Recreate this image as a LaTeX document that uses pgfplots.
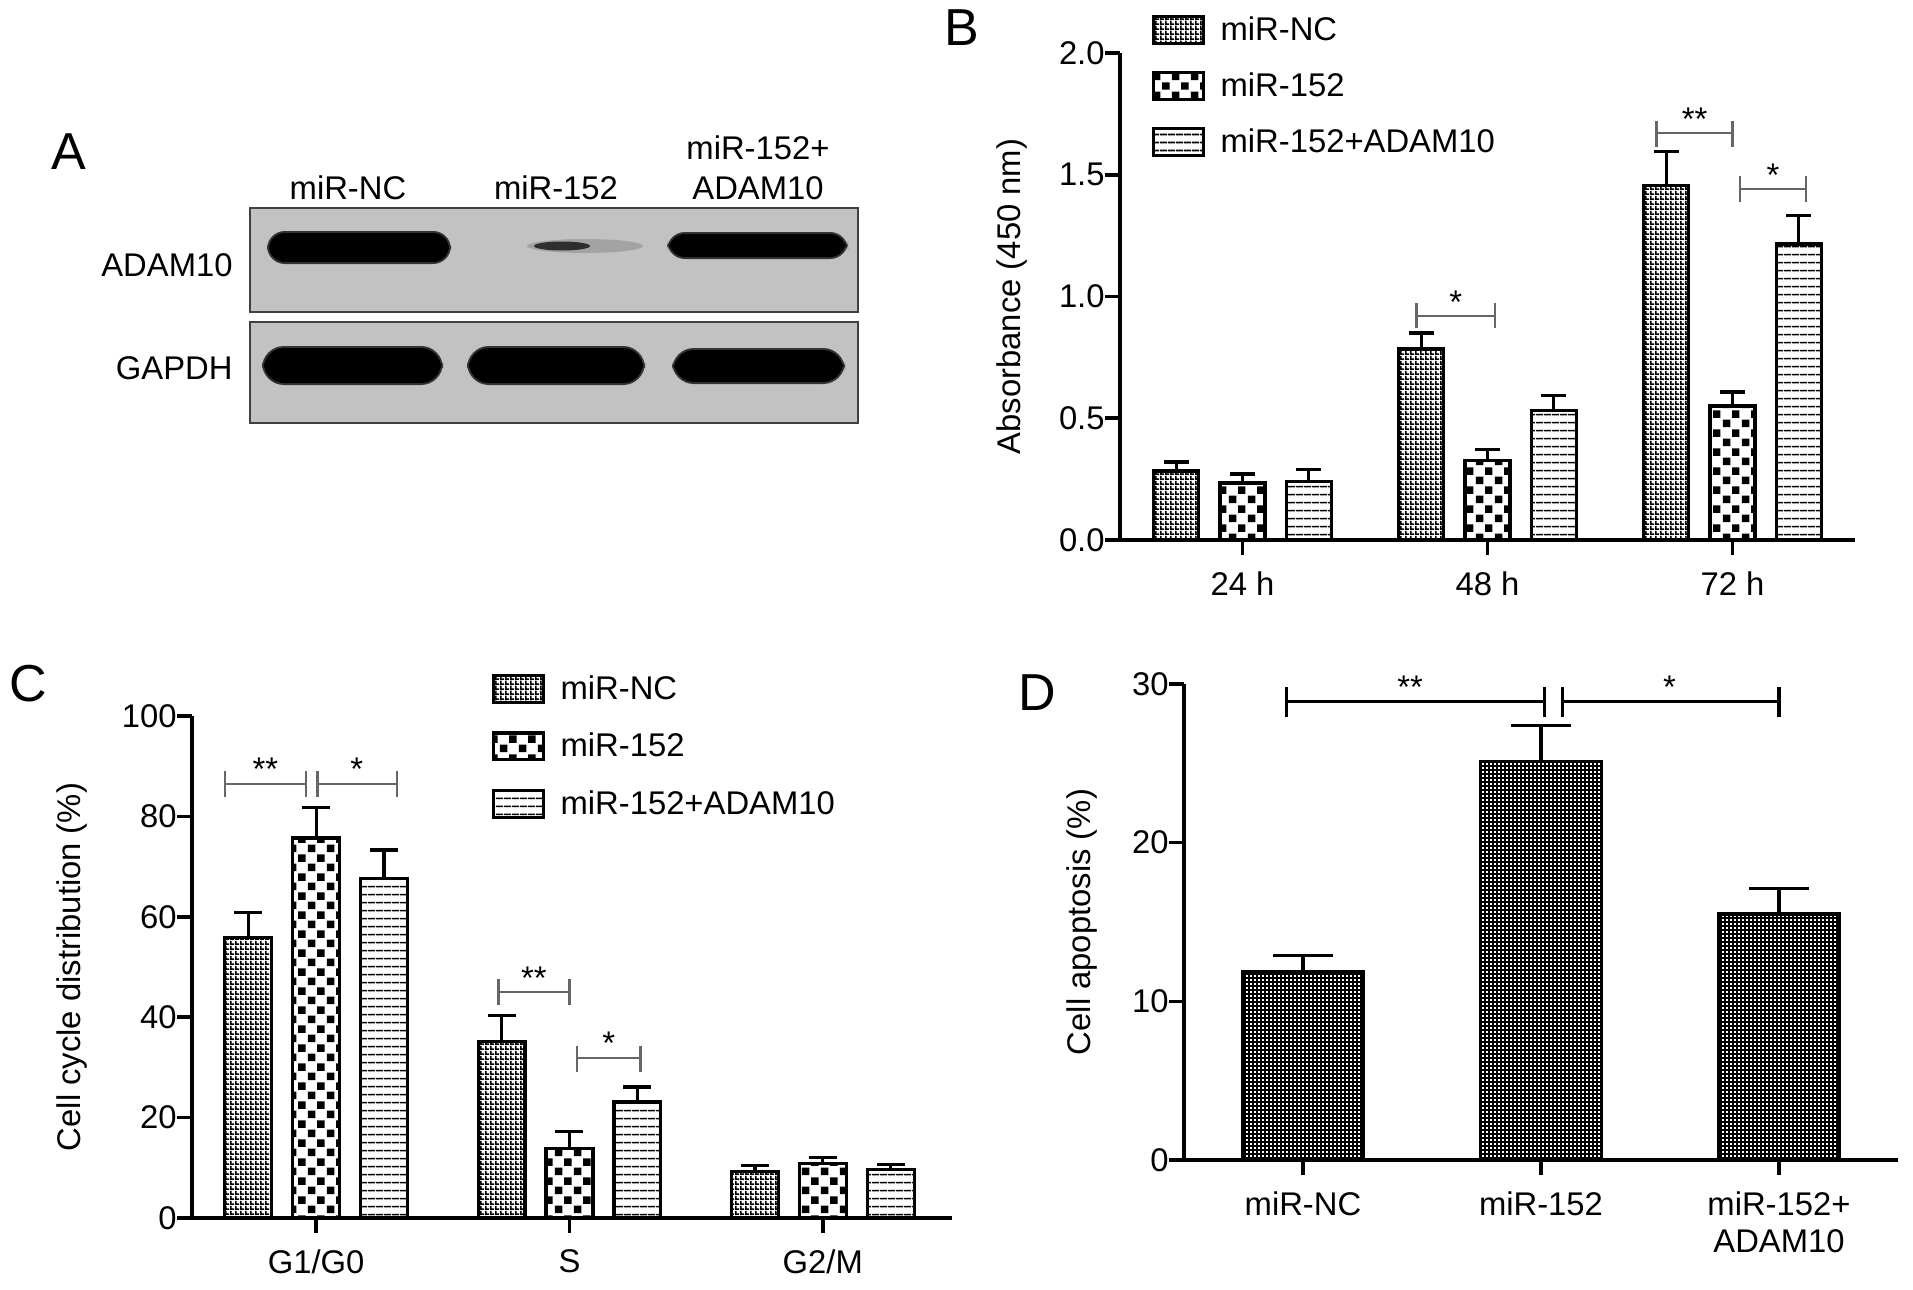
\documentclass[border=0pt]{standalone}
\usepackage{fontspec}
\setmainfont{Liberation Sans}
\usepackage{pgfplots}
\pgfplotsset{compat=1.18}
\usetikzlibrary{patterns}
\newcommand{\fs}{\fontsize{16.4}{18.5}\selectfont}

% fine dotted mesh (miR-NC)
\pgfdeclarepatternformonly{ncdots}{\pgfpointorigin}{\pgfpoint{2.5pt}{2.5pt}}{\pgfpoint{2.5pt}{2.5pt}}{%
  \pgfpathrectangle{\pgfpointorigin}{\pgfpoint{2.5pt}{1.0pt}}%
  \pgfpathrectangle{\pgfpointorigin}{\pgfpoint{1.0pt}{2.5pt}}%
  \pgfusepath{fill}}
% denser mesh (panel D)
\pgfdeclarepatternformonly{ddots}{\pgfpointorigin}{\pgfpoint{2.2pt}{2.2pt}}{\pgfpoint{2.2pt}{2.2pt}}{%
  \pgfpathrectangle{\pgfpointorigin}{\pgfpoint{2.2pt}{1.0pt}}%
  \pgfpathrectangle{\pgfpointorigin}{\pgfpoint{1.0pt}{2.2pt}}%
  \pgfusepath{fill}}
% coarse checkerboard (miR-152)
\pgfdeclarepatternformonly{bigcheck}{\pgfpointorigin}{\pgfpoint{9.6pt}{9.6pt}}{\pgfpoint{9.6pt}{9.6pt}}{%
  \pgfpathrectangle{\pgfpoint{0.5pt}{0.5pt}}{\pgfpoint{3.8pt}{3.8pt}}%
  \pgfpathrectangle{\pgfpoint{5.3pt}{5.3pt}}{\pgfpoint{3.8pt}{3.8pt}}%
  \pgfusepath{fill}}
% horizontal lines (miR-152+ADAM10)
\pgfdeclarepatternformonly{hl}{\pgfpointorigin}{\pgfpoint{4pt}{4pt}}{\pgfpoint{4pt}{4pt}}{%
  \pgfpathrectangle{\pgfpoint{0pt}{1.5pt}}{\pgfpoint{4pt}{0.85pt}}%
  \pgfusepath{fill}}

\pgfplotsset{
  prism/.style={
    scale only axis, clip=false,
    axis x line=bottom, axis y line=left,
    axis line style={-, line width=1.8pt, black},
    tick style={line width=1.8pt, black},
    tick align=outside, major tick length=7.5pt,
    minor tick num=0,
    tick label style={font=\fs, inner sep=0pt},
    xticklabel style={anchor=north, yshift=-8.3pt},
    yticklabel style={anchor=east},
    legend cell align=left,
    legend style={draw=none, fill=none, inner sep=0pt, outer sep=0pt, font=\fs,
      nodes={inner sep=0pt, outer sep=0pt}},
  },
  mybar/.style={ybar, bar shift=0pt, draw=black, line width=1.6pt, pattern color=black,
    error bars/y dir=plus, error bars/y explicit,
    error bars/error bar style={line width=1.6pt, black},
    error bars/error mark options={rotate=90, line width=1.6pt, black, mark size=#1},
    legend image code/.code={%
      \draw[##1,/tikz/.cd, line width=1.6pt] (0pt,-6.7pt) rectangle (24.9pt,6.7pt);
      \path[draw=none, fill=none, pattern=none] (0pt,0pt) -- (33.5pt,0pt);}},
  bracket/.style={forget plot, black!60, line width=1.1pt, unbounded coords=jump, mark=none},
  dbracket/.style={forget plot, black, line width=1.8pt, unbounded coords=jump, mark=none},
}

\begin{document}
\begin{tikzpicture}
\useasboundingbox (0pt,0pt) rectangle (956.5pt,-645pt);

% ---------------- Panel A (western blot) ----------------
\begin{scope}[x=0.5pt,y=-0.5pt]
  \node[font=\fontsize{26}{30}\selectfont] at (69,152) {A};
  \node[font=\fs] at (348,188) {miR-NC};
  \node[font=\fs] at (556,188) {miR-152};
  \node[font=\fs] at (758,148) {miR-152+};
  \node[font=\fs] at (758,188) {ADAM10};
  \node[font=\fs, anchor=east, inner sep=0pt] at (233,265) {ADAM10};
  \node[font=\fs, anchor=east, inner sep=0pt] at (233,368) {GAPDH};
  % membranes
  \fill[black!24] (250,208) rectangle (858,312);
  \fill[black!24] (250,322) rectangle (858,423);
  % ADAM10 bands
  \fill[black!80, rounded corners=9pt] (267,231) rectangle (451,264);
  \fill[black, rounded corners=8pt] (269,233) rectangle (449,262);
  \fill[black!36] (585,246) ellipse (58 and 7);
  \fill[black!82] (562,246) ellipse (28 and 4.5);
  \fill[black!80, rounded corners=9pt] (667,232) rectangle (848,259);
  \fill[black, rounded corners=8pt] (669,234) rectangle (846,257);
  % GAPDH bands
  \fill[black!80, rounded corners=11pt] (262,346) rectangle (443,385);
  \fill[black, rounded corners=10pt] (264,348) rectangle (441,383);
  \fill[black!80, rounded corners=11pt] (467,346) rectangle (645,385);
  \fill[black, rounded corners=10pt] (469,348) rectangle (643,383);
  \fill[black!80, rounded corners=11pt] (672,348) rectangle (845,384);
  \fill[black, rounded corners=10pt] (674,350) rectangle (843,382);
  \draw[black!75, line width=1.2pt] (250,208) rectangle (858,312);
  \draw[black!75, line width=1.2pt] (250,322) rectangle (858,423);
\end{scope}

% panel letters
\node[font=\fontsize{26}{30}\selectfont] at (481pt,-14pt) {B};
\node[font=\fontsize{26}{30}\selectfont] at (14pt,-342pt) {C};
\node[font=\fontsize{26}{30}\selectfont] at (518.5pt,-346.5pt) {D};

% ---------------- Panel B ----------------
\begin{axis}[prism,
  at={(560pt,-270pt)}, anchor=south west,
  width=367.5pt, height=243.5pt,
  xmin=-0.5, xmax=2.5, ymin=0, ymax=2,
  xtick={0,1,2}, xticklabels={24 h,48 h,72 h},
  ytick={0,0.5,1,1.5,2}, yticklabels={0.0,0.5,1.0,1.5,2.0},
  every axis y label/.style={at={(axis description cs:-0.147,0.5)}, rotate=90, anchor=center, font=\fs},
  ylabel={Absorbance (450 nm)},
  legend style={at={(axis description cs:0.0435,1.078)}, anchor=north west, row sep=13pt},
]
\addplot[mybar=6.25pt, bar width=0.184, pattern=ncdots]
  coordinates {(-0.27,0.283) +- (0,0.037) (0.73,0.784) +- (0,0.066) (1.73,1.456) +- (0,0.139)};
\addlegendentry{miR-NC}
\addplot[mybar=6.25pt, bar width=0.184, pattern=bigcheck]
  coordinates {(0,0.234) +- (0,0.037) (1,0.325) +- (0,0.048) (2,0.550) +- (0,0.058)};
\addlegendentry{miR-152}
\addplot[mybar=6.25pt, bar width=0.184, pattern=hl]
  coordinates {(0.27,0.240) +- (0,0.049) (1.27,0.533) +- (0,0.060) (2.27,1.216) +- (0,0.117)};
\addlegendentry{miR-152+ADAM10}
% significance brackets
\addplot[bracket] coordinates {(0.71,0.871) (0.71,0.973) (0.71,nan) (0.71,0.92) (1.03,0.92) (1.03,nan) (1.03,0.871) (1.03,0.973)};
\addplot[bracket] coordinates {(1.69,1.614) (1.69,1.72) (1.69,nan) (1.69,1.671) (2.0,1.671) (2.0,nan) (2.0,1.614) (2.0,1.72)};
\addplot[bracket] coordinates {(2.03,1.388) (2.03,1.494) (2.03,nan) (2.03,1.441) (2.30,1.441) (2.30,nan) (2.30,1.388) (2.30,1.494)};
\node[font=\fs, anchor=base, inner sep=0pt] at (axis cs:0.87,0.932) {*};
\node[font=\fs, anchor=base, inner sep=0pt] at (axis cs:1.845,1.683) {**};
\node[font=\fs, anchor=base, inner sep=0pt] at (axis cs:2.165,1.453) {*};
\end{axis}

% ---------------- Panel C ----------------
\begin{axis}[prism,
  at={(96pt,-609pt)}, anchor=south west,
  width=380pt, height=251pt,
  xmin=-0.49, xmax=2.51, ymin=0, ymax=100,
  xtick={0,1,2}, xticklabels={G1/G0,S,G2/M},
  ytick={0,20,40,60,80,100}, yticklabels={0,20,40,60,80,100},
  every axis y label/.style={at={(axis description cs:-0.158,0.5)}, rotate=90, anchor=center, font=\fs},
  ylabel={Cell cycle distribution (\%)},
  legend style={at={(axis description cs:0.3947,1.0837)}, anchor=north west, row sep=13.75pt},
]
\addplot[mybar=7pt, bar width=0.185, pattern=ncdots]
  coordinates {(-0.268,55.8) +- (0,5.0) (0.732,35.1) +- (0,5.3) (1.732,9.3) +- (0,1.1)};
\addlegendentry{miR-NC}
\addplot[mybar=7pt, bar width=0.185, pattern=bigcheck]
  coordinates {(0,75.7) +- (0,6.1) (1,13.9) +- (0,3.3) (2,10.9) +- (0,1.1)};
\addlegendentry{miR-152}
\addplot[mybar=7pt, bar width=0.185, pattern=hl]
  coordinates {(0.268,67.6) +- (0,5.7) (1.268,23.1) +- (0,3.0) (2.268,9.6) +- (0,1.1)};
\addlegendentry{miR-152+ADAM10}
\addplot[bracket] coordinates {(-0.36,83.9) (-0.36,89.0) (-0.36,nan) (-0.36,86.5) (-0.04,86.5) (-0.04,nan) (-0.04,83.9) (-0.04,89.0)};
\addplot[bracket] coordinates {(0.005,83.9) (0.005,89.0) (0.005,nan) (0.005,86.5) (0.32,86.5) (0.32,nan) (0.32,83.9) (0.32,89.0)};
\addplot[bracket] coordinates {(0.72,42.4) (0.72,47.6) (0.72,nan) (0.72,45.0) (1.0,45.0) (1.0,nan) (1.0,42.4) (1.0,47.6)};
\addplot[bracket] coordinates {(1.03,29.1) (1.03,34.3) (1.03,nan) (1.03,31.9) (1.28,31.9) (1.28,nan) (1.28,29.1) (1.28,34.3)};
\node[font=\fs, anchor=base, inner sep=0pt] at (axis cs:-0.2,87.1) {**};
\node[font=\fs, anchor=base, inner sep=0pt] at (axis cs:0.16,87.1) {*};
\node[font=\fs, anchor=base, inner sep=0pt] at (axis cs:0.86,45.6) {**};
\node[font=\fs, anchor=base, inner sep=0pt] at (axis cs:1.155,32.5) {*};
\end{axis}

% ---------------- Panel D ----------------
\begin{axis}[prism,
  at={(592pt,-580pt)}, anchor=south west,
  width=357pt, height=238pt,
  xmin=-0.5, xmax=2.5, ymin=0, ymax=30,
  xtick={0,1,2}, xticklabels={miR-NC,miR-152,{miR-152+\\ADAM10}},
  xticklabel style={align=center},
  ytick={0,10,20,30}, yticklabels={0,10,20,30},
  every axis y label/.style={at={(axis description cs:-0.1425,0.5)}, rotate=90, anchor=center, font=\fs},
  ylabel={Cell apoptosis (\%)},
]
\addplot[mybar=15pt, bar width=0.51, pattern=ddots, forget plot]
  coordinates {(0,11.9) +- (0,1.0) (1,25.1) +- (0,2.3) (2,15.5) +- (0,1.6)};
\addplot[dbracket] coordinates {(-0.07,27.95) (-0.07,29.8) (-0.07,nan) (-0.07,28.9) (1.015,28.9) (1.015,nan) (1.015,27.95) (1.015,29.8)};
\addplot[dbracket] coordinates {(1.09,27.95) (1.09,29.8) (1.09,nan) (1.09,28.9) (2.0,28.9) (2.0,nan) (2.0,27.95) (2.0,29.8)};
\node[font=\fs, anchor=base, inner sep=0pt] at (axis cs:0.45,29.1) {**};
\node[font=\fs, anchor=base, inner sep=0pt] at (axis cs:1.54,29.1) {*};
\end{axis}
\end{tikzpicture}
\end{document}
